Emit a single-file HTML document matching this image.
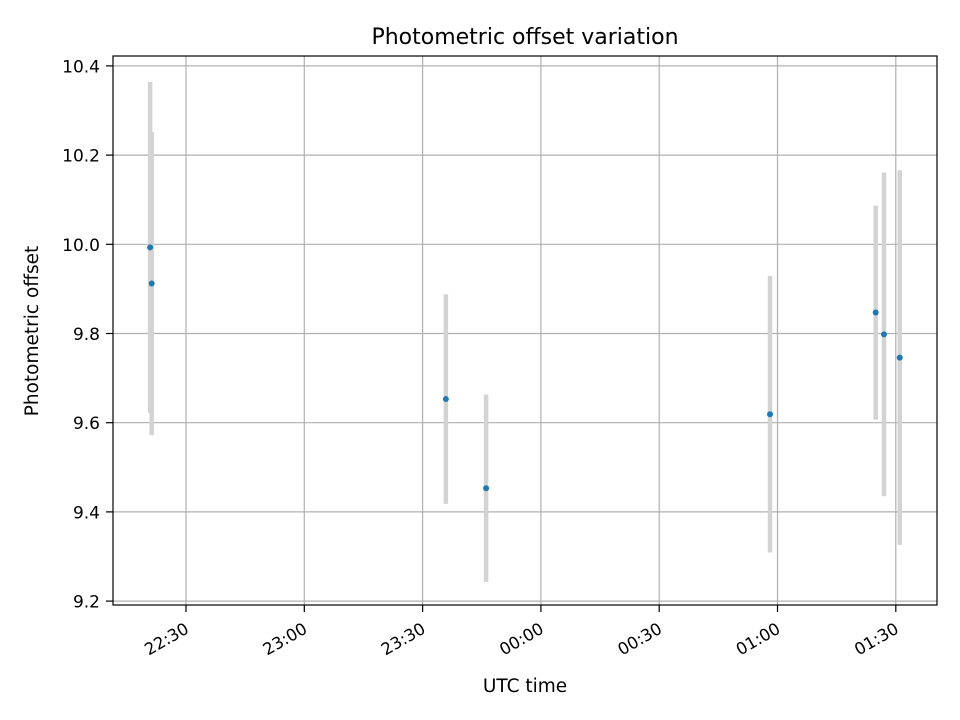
<!DOCTYPE html>
<html><head><meta charset="utf-8"><style>
body{margin:0;background:#fff;}
svg{display:block;font-family:"DejaVu Sans","Liberation Sans",sans-serif;}
</style></head><body>
<svg id="chart" width="960" height="720">
<rect width="960" height="720" fill="#fff"/>
<text x="525" y="44" text-anchor="middle" style="font-size:22px">Photometric offset variation</text>
<g id="grid"></g><g id="bars"></g><g id="pts"></g><g id="axes"></g>
<rect x="113" y="56" width="824" height="549" fill="none" stroke="#000" stroke-width="1.2"/>
<text x="525" y="692" text-anchor="middle" style="font-size:18.5px">UTC time</text>
<text transform="translate(38,331) rotate(-90)" text-anchor="middle" style="font-size:18.5px">Photometric offset</text>
</svg>
<script>
// minutes since 22:00
const times=[20.9,21.3,95.9,106.1,178.1,204.9,207.0,211.0];
const offsets=[9.993,9.912,9.653,9.453,9.619,9.847,9.798,9.746];
const errors=[0.371,0.34,0.235,0.21,0.31,0.24,0.363,0.42];
const xTicks=[30,60,90,120,150,180,210];
const xTickLabels=["22:30","23:00","23:30","00:00","00:30","01:00","01:30"];
const yTicks=[9.2,9.4,9.6,9.8,10.0,10.2,10.4];
const yTickLabels=["9.2","9.4","9.6","9.8","10.0","10.2","10.4"];
const NS="http://www.w3.org/2000/svg";
const L=113,R=937,T=56,B=605;
function xs(m){return 186+(m-30)*118.3/30;}
function ys(v){return 244.3-(v-10)*446;}
function mk(tag,attrs,parent,text){const e=document.createElementNS(NS,tag);for(const k in attrs)e.setAttribute(k,attrs[k]);if(text!==undefined)e.textContent=text;document.getElementById(parent).appendChild(e);return e;}
xTicks.forEach((t,i)=>{const x=xs(t);
 let g=mk('line',{x1:x,x2:x,y1:T,y2:B,stroke:'#b0b0b0','stroke-width':1.2},'grid');
 
 
 let tk=mk('line',{x1:x,x2:x,y1:B,y2:B+7,stroke:'#000','stroke-width':1.2},'axes');
 
 
 let lb=mk('text',{x:0,y:0,'text-anchor':'end',style:'font-size:16.5px',transform:`translate(${x+4},${B+27}) rotate(-30)`},'axes',xTickLabels[i]);
 
 
});
yTicks.forEach((t,i)=>{const y=ys(t);
 let g=mk('line',{x1:L,x2:R,y1:y,y2:y,stroke:'#b0b0b0','stroke-width':1.2},'grid');
 
 
 let tk=mk('line',{x1:L-7,x2:L,y1:y,y2:y,stroke:'#000','stroke-width':1.2},'axes');
 
 
 let lb=mk('text',{x:L-13,y:y+6.5,'text-anchor':'end',style:'font-size:17px'},'axes',yTickLabels[i]);
 
 
});
times.forEach((t,i)=>{const x=xs(t);
 let b=mk('line',{x1:x,x2:x,y1:ys(offsets[i]+errors[i]),y2:ys(offsets[i]-errors[i]),stroke:'#d3d3d3','stroke-width':4.5},'bars');
 
 
 let p=mk('circle',{cx:x,cy:ys(offsets[i]),r:3,fill:'#1f77b4'},'pts');
 
 
});
</script>
</body></html>
